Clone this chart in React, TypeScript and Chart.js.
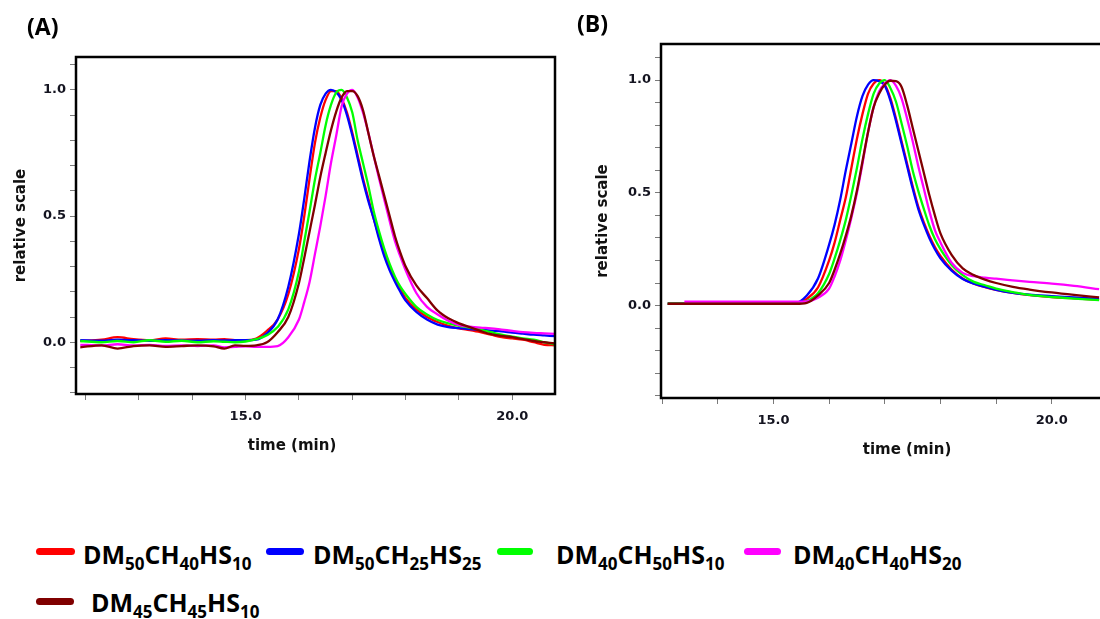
import React, { useEffect, useRef } from 'react';
import { Chart, registerables } from 'chart.js';

Chart.register(...registerables);

// ---------- data ----------
const seriesLabels = ['DM50CH40HS10', 'DM50CH25HS25', 'DM40CH50HS10', 'DM40CH40HS20', 'DM45CH45HS10'];
const seriesColors = ['#ff0000', '#0000ff', '#00ff00', '#ff00ff', '#800000'];

const yTickLabels = ['0.0', '0.5', '1.0'];
const xTickLabels = ['15.0', '20.0'];

// Panel (A)
const timesA = [
  11.9, 12.3, 12.6, 12.9, 13.2, 13.5, 13.8, 14.1, 14.4, 14.6, 14.8, 15.0,
  15.2, 15.4, 15.6, 15.8, 16.0,
  16.1, 16.2, 16.3, 16.4, 16.5, 16.6, 16.7, 16.8, 16.9, 17.0, 17.1, 17.2, 17.3, 17.4, 17.5, 17.6, 17.7, 17.8, 17.9, 18.0,
  18.2, 18.4, 18.6, 18.8, 19.0, 19.2, 19.4, 19.6, 19.8, 20.0, 20.2, 20.4, 20.6, 20.8,
];
const redA = [
  0.005, 0.010, 0.020, 0.012, 0.008, 0.015, 0.010, 0.012, 0.010, 0.012, 0.008, 0.008,
  0.015, 0.045, 0.090, 0.190, 0.370,
  0.50, 0.65, 0.79, 0.89, 0.96, 0.995, 0.995, 0.965, 0.91, 0.83, 0.74, 0.65, 0.57, 0.49, 0.42, 0.35, 0.295, 0.25, 0.21, 0.175,
  0.13, 0.10, 0.08, 0.065, 0.055, 0.048, 0.040, 0.030, 0.020, 0.015, 0.010, 0.000, -0.010, -0.012,
];
const blueA = [
  0.008, 0.006, 0.010, 0.008, 0.006, 0.008, 0.007, 0.006, 0.008, 0.007, 0.008, 0.008,
  0.010, 0.035, 0.090, 0.220, 0.430,
  0.57, 0.72, 0.85, 0.94, 0.985, 1.0, 0.99, 0.96, 0.90, 0.82, 0.73, 0.64, 0.56, 0.49, 0.41, 0.34, 0.285, 0.24, 0.20, 0.165,
  0.12, 0.09, 0.07, 0.06, 0.056, 0.052, 0.049, 0.046, 0.043, 0.038, 0.034, 0.030, 0.027, 0.024,
];
const greenA = [
  0.005, 0.000, 0.005, 0.000, 0.008, 0.002, 0.006, 0.000, 0.004, 0.002, 0.000, 0.003,
  0.012, 0.028, 0.060, 0.130, 0.280,
  0.40, 0.52, 0.645, 0.75, 0.86, 0.94, 0.99, 1.0, 0.97, 0.91, 0.80, 0.71, 0.62, 0.52, 0.44, 0.37, 0.31, 0.26, 0.22, 0.19,
  0.14, 0.11, 0.088, 0.075, 0.065, 0.058, 0.050, 0.040, 0.030, 0.022, 0.015, 0.010, 0.000, -0.008,
];
const magentaA = [
  -0.010, -0.012, -0.008, -0.012, -0.010, -0.014, -0.012, -0.015, -0.012, -0.020, -0.018, -0.016,
  -0.018, -0.018, -0.015, 0.020, 0.090,
  0.16, 0.24, 0.35, 0.46, 0.58, 0.71, 0.82, 0.935, 0.985, 1.0, 0.97, 0.91, 0.83, 0.74, 0.65, 0.565, 0.48, 0.40, 0.34, 0.285,
  0.195, 0.14, 0.11, 0.085, 0.068, 0.062, 0.058, 0.055, 0.050, 0.045, 0.040, 0.037, 0.035, 0.033,
];
const darkRedA = [
  -0.020, -0.012, -0.025, -0.015, -0.012, -0.018, -0.015, -0.012, -0.016, -0.025, -0.012, -0.014,
  -0.012, 0.000, 0.040, 0.100, 0.235,
  0.335, 0.44, 0.545, 0.655, 0.75, 0.84, 0.915, 0.97, 0.995, 0.995, 0.975, 0.92, 0.83, 0.74, 0.66, 0.58, 0.50, 0.42, 0.355, 0.30,
  0.225, 0.175, 0.125, 0.095, 0.075, 0.060, 0.045, 0.032, 0.025, 0.020, 0.012, 0.005, 0.000, -0.005,
];

// Panel (B)
const timesB = [
  13.1, 13.4, 14.0, 15.0, 15.4, 15.6, 15.8, 16.0,
  16.1, 16.2, 16.3, 16.4, 16.5, 16.6, 16.7, 16.8, 16.9, 17.0, 17.1, 17.2, 17.3, 17.4, 17.5, 17.6, 17.7, 17.8, 17.9, 18.0,
  18.2, 18.4, 18.6, 18.8, 19.0, 19.3, 19.6, 20.0, 20.4, 20.85,
];
const redB = [
  0.008, 0.008, 0.008, 0.008, 0.009, 0.030, 0.080, 0.200,
  0.28, 0.38, 0.48, 0.61, 0.74, 0.85, 0.94, 0.985, 1.0, 0.98, 0.92, 0.83, 0.73, 0.63, 0.53, 0.44, 0.37, 0.31, 0.26, 0.22,
  0.16, 0.12, 0.097, 0.082, 0.070, 0.056, 0.046, 0.038, 0.032, 0.025,
];
const blueB = [
  0.008, 0.008, 0.008, 0.008, 0.012, 0.045, 0.120, 0.270,
  0.36, 0.47, 0.60, 0.72, 0.84, 0.93, 0.98, 1.0, 0.995, 0.975, 0.91, 0.82, 0.72, 0.62, 0.52, 0.43, 0.36, 0.30, 0.25, 0.21,
  0.155, 0.118, 0.097, 0.083, 0.070, 0.056, 0.048, 0.042, 0.036, 0.029,
];
const greenB = [
  0.008, 0.008, 0.008, 0.008, 0.008, 0.020, 0.055, 0.140,
  0.21, 0.29, 0.38, 0.49, 0.61, 0.74, 0.85, 0.94, 0.985, 1.0, 0.965, 0.905, 0.81, 0.71, 0.60, 0.51, 0.43, 0.355, 0.295, 0.25,
  0.18, 0.135, 0.105, 0.090, 0.075, 0.060, 0.047, 0.038, 0.031, 0.024,
];
const magentaB = [
  null, 0.017, 0.017, 0.017, 0.017, 0.018, 0.035, 0.075,
  0.13, 0.20, 0.29, 0.39, 0.50, 0.63, 0.77, 0.88, 0.95, 0.985, 1.0, 0.975, 0.92, 0.83, 0.73, 0.62, 0.52, 0.42, 0.335, 0.28,
  0.19, 0.145, 0.13, 0.124, 0.119, 0.112, 0.105, 0.097, 0.087, 0.073,
];
const darkRedB = [
  0.008, 0.008, 0.008, 0.008, 0.008, 0.012, 0.045, 0.100,
  0.16, 0.23, 0.31, 0.40, 0.51, 0.64, 0.77, 0.88, 0.94, 0.98, 0.997, 0.995, 0.97, 0.89, 0.79, 0.69, 0.59, 0.49, 0.40, 0.32,
  0.225, 0.165, 0.135, 0.115, 0.100, 0.083, 0.071, 0.058, 0.047, 0.036,
];

// ---------- styling / layout ----------
const TICK_FONT = { family: 'DejaVu Sans', weight: 'bold' as const, size: 13 };
const TITLE_FONT = { family: 'DejaVu Sans', weight: 'bold' as const, size: 15 };
const TEXT_COLOR = '#141420';

type Panel = {
  times: number[];
  series: (number | null)[][];
  xMin: number; xMax: number; yMin: number; yMax: number;
  left: number; top: number; width: number; height: number;
  padTop: number; padRight: number; xAxisH: number; yAxisW: number;
  xTickPad: number; yTitlePad: number;
};

const panelA: Panel = {
  times: timesA,
  series: [redA, blueA, greenA, magentaA, darkRedA],
  xMin: 11.82, xMax: 20.8, yMin: -0.205, yMax: 1.13,
  left: 0, top: 40, width: 560, height: 420,
  padTop: 17, padRight: 5, xAxisH: 66, yAxisW: 76,
  xTickPad: 9, yTitlePad: 12,
};
const panelB: Panel = {
  times: timesB,
  series: [redB, blueB, greenB, magentaB, darkRedB],
  xMin: 12.98, xMax: 20.92, yMin: -0.41, yMax: 1.16,
  left: 585, top: 20, width: 540, height: 440,
  padTop: 24, padRight: 22, xAxisH: 62, yAxisW: 76,
  xTickPad: 9, yTitlePad: 9,
};

const boxPlugin = {
  id: 'frameBox',
  afterDatasetsDraw(chart: any) {
    const { ctx, chartArea } = chart;
    const { left, top, right, bottom } = chartArea;
    ctx.save();
    ctx.strokeStyle = '#000';
    ctx.lineWidth = 2.5;
    ctx.strokeRect(left, top, right - left, bottom - top);
    ctx.restore();
  },
};

function pickLabel(list: string[], v: number) {
  const found = list.find((l) => Math.abs(parseFloat(l) - v) < 1e-6);
  return found ?? '';
}

function PanelChart({ p }: { p: Panel }) {
  const ref = useRef<HTMLCanvasElement | null>(null);
  useEffect(() => {
    if (!ref.current) return;
    const datasets = p.series.map((vals, i) => ({
      label: seriesLabels[i],
      data: p.times.map((t, j) => ({ x: t, y: vals[j] })),
      borderColor: seriesColors[i],
      backgroundColor: seriesColors[i],
      borderWidth: 2.3,
      pointRadius: 0,
      fill: false,
      cubicInterpolationMode: 'monotone' as const,
      order: seriesLabels.length - i,
    }));
    const chart = new Chart(ref.current, {
      type: 'line',
      data: { datasets },
      plugins: [boxPlugin],
      options: {
        animation: false,
        responsive: false,
        maintainAspectRatio: false,
        layout: { padding: { top: p.padTop, right: p.padRight, left: 0, bottom: 0 } },
        plugins: { legend: { display: false }, tooltip: { enabled: false } },
        scales: {
          x: {
            type: 'linear',
            min: p.xMin,
            max: p.xMax,
            ticks: {
              stepSize: 1,
              autoSkip: false,
              includeBounds: false,
              maxRotation: 0,
              padding: p.xTickPad,
              font: TICK_FONT,
              color: TEXT_COLOR,
              callback: (v: any) => pickLabel(xTickLabels, Number(v)),
            },
            grid: { drawOnChartArea: false, drawTicks: true, tickLength: 6, color: '#7a7a7a', lineWidth: 1 },
            border: { display: false },
            afterFit: (s: any) => { s.height = p.xAxisH; },
          },
          y: {
            type: 'linear',
            min: p.yMin,
            max: p.yMax,
            ticks: {
              stepSize: 0.1,
              autoSkip: false,
              includeBounds: false,
              padding: 4,
              font: TICK_FONT,
              color: TEXT_COLOR,
              callback: (v: any) => pickLabel(yTickLabels, Number(v)),
            },
            grid: { drawOnChartArea: false, drawTicks: true, tickLength: 6, color: '#7a7a7a', lineWidth: 1 },
            border: { display: false },
            title: {
              display: true,
              text: 'relative scale',
              font: TITLE_FONT,
              color: '#111',
              padding: { top: p.yTitlePad, bottom: 0 },
            },
            afterFit: (s: any) => { s.width = p.yAxisW; },
          },
        },
      } as any,
    });
    return () => chart.destroy();
  }, [p]);
  return (
    <canvas
      ref={ref}
      width={p.width}
      height={p.height}
      style={{ position: 'absolute', left: p.left, top: p.top, width: p.width, height: p.height }}
    />
  );
}

function chemParts(label: string) {
  const parts: { t: string; s: string }[] = [];
  const re = /([A-Za-z]+)(\d+)/g;
  let m: RegExpExecArray | null;
  while ((m = re.exec(label)) !== null) parts.push({ t: m[1], s: m[2] });
  return parts;
}

const legendLayout = [
  { sx: 36, sw: 39, row: 0, tx: 83 },
  { sx: 266, sw: 38, row: 0, tx: 313 },
  { sx: 497, sw: 36, row: 0, tx: 556 },
  { sx: 744, sw: 37, row: 0, tx: 793 },
  { sx: 36, sw: 38, row: 1, tx: 91 },
];
const swatchTop = [548, 598];
const textTop = [536.6, 585.3];

const absText = (extra: React.CSSProperties): React.CSSProperties => ({
  position: 'absolute',
  whiteSpace: 'nowrap',
  ...extra,
});

export default function App() {
  return (
    <div
      style={{
        position: 'absolute',
        left: 0,
        top: 0,
        width: 1100,
        height: 619,
        overflow: 'hidden',
        background: '#fff',
      }}
    >
      <PanelChart p={panelA} />
      <PanelChart p={panelB} />

      <div style={absText({ left: 27, top: 10, font: "bold 23px 'Open Sans'", color: '#000' })}>(A)</div>
      <div style={absText({ left: 577, top: 7.4, font: "bold 23px 'Open Sans'", color: '#000' })}>(B)</div>

      <div
        style={absText({
          left: 292, top: 445, transform: 'translate(-50%, -50%)',
          font: "bold 15px 'DejaVu Sans'", color: '#111',
        })}
      >
        time (min)
      </div>
      <div
        style={absText({
          left: 907, top: 449, transform: 'translate(-50%, -50%)',
          font: "bold 15px 'DejaVu Sans'", color: '#111',
        })}
      >
        time (min)
      </div>

      {seriesLabels.map((lab, i) => {
        const L = legendLayout[i];
        return (
          <React.Fragment key={lab}>
            <div
              style={{
                position: 'absolute',
                left: L.sx,
                top: swatchTop[L.row],
                width: L.sw,
                height: 7,
                borderRadius: 3.5,
                background: seriesColors[i],
              }}
            />
            <div style={absText({ left: L.tx, top: textTop[L.row], font: "bold 25px 'Open Sans'", color: '#000' })}>
              {chemParts(lab).map((pt, k) => (
                <React.Fragment key={k}>
                  {pt.t}
                  <span style={{ fontSize: 17, verticalAlign: '-6px', lineHeight: 0 }}>{pt.s}</span>
                </React.Fragment>
              ))}
            </div>
          </React.Fragment>
        );
      })}
    </div>
  );
}
